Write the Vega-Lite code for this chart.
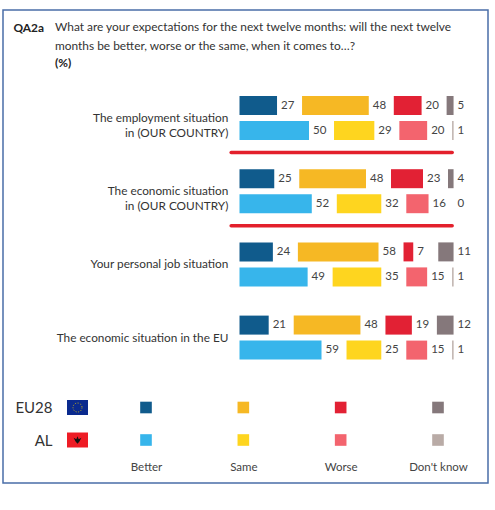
{
  "$schema": "https://vega.github.io/schema/vega-lite/v6.json",
  "autosize": "none",
  "width": 485,
  "height": 473,
  "padding": {"left": 3, "top": 10, "right": 7, "bottom": 27},
  "background": "white",
  "title": {
    "text": ["What are your expectations for the next twelve months: will the next twelve", "months be better, worse or the same, when it comes to…?"],
    "subtitle": "(%)",
    "anchor": "start",
    "frame": "group",
    "dx": 52,
    "offset": -60,
    "fontSize": 11.9,
    "fontWeight": "normal",
    "color": "#333333",
    "lineHeight": 19.5,
    "subtitleFontSize": 11.9,
    "subtitleFontWeight": "bold",
    "subtitleColor": "#222222",
    "subtitlePadding": 5
  },
  "datasets": {
    "answers": [
      {"topic": "The employment situation\nin (OUR COUNTRY)", "country": "EU28", "response": "Better", "value": 27},
      {"topic": "The employment situation\nin (OUR COUNTRY)", "country": "EU28", "response": "Same", "value": 48},
      {"topic": "The employment situation\nin (OUR COUNTRY)", "country": "EU28", "response": "Worse", "value": 20},
      {"topic": "The employment situation\nin (OUR COUNTRY)", "country": "EU28", "response": "Don't know", "value": 5},
      {"topic": "The employment situation\nin (OUR COUNTRY)", "country": "AL", "response": "Better", "value": 50},
      {"topic": "The employment situation\nin (OUR COUNTRY)", "country": "AL", "response": "Same", "value": 29},
      {"topic": "The employment situation\nin (OUR COUNTRY)", "country": "AL", "response": "Worse", "value": 20},
      {"topic": "The employment situation\nin (OUR COUNTRY)", "country": "AL", "response": "Don't know", "value": 1},
      {"topic": "The economic situation\nin (OUR COUNTRY)", "country": "EU28", "response": "Better", "value": 25},
      {"topic": "The economic situation\nin (OUR COUNTRY)", "country": "EU28", "response": "Same", "value": 48},
      {"topic": "The economic situation\nin (OUR COUNTRY)", "country": "EU28", "response": "Worse", "value": 23},
      {"topic": "The economic situation\nin (OUR COUNTRY)", "country": "EU28", "response": "Don't know", "value": 4},
      {"topic": "The economic situation\nin (OUR COUNTRY)", "country": "AL", "response": "Better", "value": 52},
      {"topic": "The economic situation\nin (OUR COUNTRY)", "country": "AL", "response": "Same", "value": 32},
      {"topic": "The economic situation\nin (OUR COUNTRY)", "country": "AL", "response": "Worse", "value": 16},
      {"topic": "The economic situation\nin (OUR COUNTRY)", "country": "AL", "response": "Don't know", "value": 0},
      {"topic": "Your personal job situation", "country": "EU28", "response": "Better", "value": 24},
      {"topic": "Your personal job situation", "country": "EU28", "response": "Same", "value": 58},
      {"topic": "Your personal job situation", "country": "EU28", "response": "Worse", "value": 7},
      {"topic": "Your personal job situation", "country": "EU28", "response": "Don't know", "value": 11},
      {"topic": "Your personal job situation", "country": "AL", "response": "Better", "value": 49},
      {"topic": "Your personal job situation", "country": "AL", "response": "Same", "value": 35},
      {"topic": "Your personal job situation", "country": "AL", "response": "Worse", "value": 15},
      {"topic": "Your personal job situation", "country": "AL", "response": "Don't know", "value": 1},
      {"topic": "The economic situation in the EU", "country": "EU28", "response": "Better", "value": 21},
      {"topic": "The economic situation in the EU", "country": "EU28", "response": "Same", "value": 48},
      {"topic": "The economic situation in the EU", "country": "EU28", "response": "Worse", "value": 19},
      {"topic": "The economic situation in the EU", "country": "EU28", "response": "Don't know", "value": 12},
      {"topic": "The economic situation in the EU", "country": "AL", "response": "Better", "value": 59},
      {"topic": "The economic situation in the EU", "country": "AL", "response": "Same", "value": 25},
      {"topic": "The economic situation in the EU", "country": "AL", "response": "Worse", "value": 15},
      {"topic": "The economic situation in the EU", "country": "AL", "response": "Don't know", "value": 1}
    ],
    "topics": [
      {"topic": "The employment situation\nin (OUR COUNTRY)"},
      {"topic": "The economic situation\nin (OUR COUNTRY)"},
      {"topic": "Your personal job situation"},
      {"topic": "The economic situation in the EU"}
    ],
    "flags": [
      {"country": "EU28"},
      {"country": "AL"}
    ]
  },
  "layer": [
    {
      "data": {"name": "answers"},
      "transform": [
        {"calculate": "indexof(['Better', 'Same', 'Worse', \"Don't know\"], datum.response)", "as": "idx"},
        {"stack": "value", "groupby": ["topic", "country"], "sort": [{"field": "idx"}], "as": ["s0", "s1"]},
        {"calculate": "datum.s0 + 18 * datum.idx", "as": "x0"},
        {"calculate": "datum.s1 + 18 * datum.idx", "as": "x1"},
        {"calculate": "datum.country + ' ' + datum.response", "as": "key"}
      ],
      "layer": [
        {
          "mark": {"type": "bar"},
          "encoding": {
            "x": {
              "field": "x0", "type": "quantitative",
              "scale": {"domain": [0, 180], "range": [236.5, 486.7], "nice": false},
              "axis": {
                "orient": "top", "labels": false, "ticks": false, "domain": false, "grid": false,
                "title": "QA2a", "titleX": 10, "titleY": 21, "titleAlign": "left",
                "titleBaseline": "alphabetic", "titleFontWeight": "bold", "titleFontSize": 11.9,
                "titleColor": "#222222", "titleAngle": 0
              }
            },
            "x2": {"field": "x1"},
            "y": {
              "field": "topic", "type": "nominal", "sort": null,
              "scale": {
                "domain": ["The employment situation\nin (OUR COUNTRY)", "The economic situation\nin (OUR COUNTRY)", "Your personal job situation", "The economic situation in the EU"],
                "range": [71.4, 364.2], "paddingInner": 0, "paddingOuter": 0
              },
              "axis": null
            },
            "yOffset": {
              "field": "country", "type": "nominal",
              "scale": {"domain": ["EU28", "AL"], "paddingInner": 0.24, "paddingOuter": 0.584}
            },
            "color": {
              "field": "key", "type": "nominal", "legend": null,
              "scale": {
                "domain": ["EU28 Better", "EU28 Same", "EU28 Worse", "EU28 Don't know", "AL Better", "AL Same", "AL Worse", "AL Don't know"],
                "range": ["#105b8c", "#f6b824", "#e22134", "#85787b", "#37b5eb", "#fed51f", "#f3646e", "#b9aba6"]
              }
            }
          }
        },
        {
          "mark": {"type": "text", "align": "left", "baseline": "middle", "dx": 4, "fontSize": 11.5, "color": "#444444"},
          "encoding": {
            "x": {"field": "x1", "type": "quantitative"},
            "y": {"field": "topic", "type": "nominal", "sort": null, "axis": null},
            "yOffset": {"field": "country", "type": "nominal"},
            "text": {"field": "value", "type": "quantitative"}
          }
        },
        {
          "data": {"name": "topics"},
          "mark": {"type": "text", "align": "right", "baseline": "middle", "lineBreak": "\n", "lineHeight": 14.5, "fontSize": 11.8, "color": "#333333"},
          "encoding": {
            "x": {"datum": -8, "type": "quantitative"},
            "y": {"field": "topic", "type": "nominal", "sort": null, "axis": null},
            "text": {"field": "topic"}
          }
        },
        {
          "data": {"values": [
            {"topic": "The employment situation\nin (OUR COUNTRY)"},
            {"topic": "The economic situation\nin (OUR COUNTRY)"}
          ]},
          "mark": {"type": "rule", "color": "#e3202c", "strokeWidth": 3.5, "strokeCap": "round", "yOffset": -2},
          "encoding": {
            "x": {"datum": -6, "type": "quantitative"},
            "x2": {"datum": 153},
            "y": {"field": "topic", "type": "nominal", "sort": null, "bandPosition": 1, "axis": null}
          }
        }
      ]
    },
    {
      "data": {"name": "answers"},
      "transform": [
        {"filter": "datum.topic == 'Your personal job situation'"},
        {"calculate": "datum.country + ' ' + datum.response", "as": "key"}
      ],
      "layer": [
        {
          "mark": {"type": "square", "size": 135, "opacity": 1},
          "encoding": {
            "x": {
              "field": "response", "type": "nominal",
              "scale": {"type": "point", "domain": ["Better", "Same", "Worse", "Don't know"], "range": [143, 435], "padding": 0},
              "axis": {
                "orient": "bottom", "offset": -22, "domain": false, "ticks": false, "tickSize": 0,
                "labelPadding": 0, "labelFontSize": 11.5, "labelColor": "#444444", "labelAngle": 0,
                "title": null, "grid": false
              }
            },
            "y": {
              "field": "country", "type": "nominal",
              "scale": {"type": "point", "domain": ["EU28", "AL"], "range": [397.5, 430], "padding": 0},
              "axis": {
                "orient": "left", "offset": -49, "domain": false, "ticks": false, "tickSize": 0,
                "labelPadding": 0, "labelFontSize": 15, "labelColor": "#333333",
                "title": null, "grid": false
              }
            },
            "color": {"field": "key", "type": "nominal", "legend": null}
          }
        },
        {
          "data": {"name": "flags"},
          "mark": {"type": "point", "shape": "M-1,-0.714L1,-0.714L1,0.714L-1,0.714Z", "size": 441, "filled": true, "opacity": 1, "xOffset": -68.5},
          "encoding": {
            "x": {"datum": "Better", "type": "nominal"},
            "y": {"field": "country", "type": "nominal"},
            "fill": {"field": "country", "type": "nominal", "legend": null,
              "scale": {"domain": ["EU28", "AL"], "range": ["#0a2a8e", "#ee1c25"]}}
          }
        },
        {
          "data": {"name": "flags"},
          "transform": [{"filter": "datum.country == 'EU28'"}],
          "mark": {"type": "point", "shape": "circle", "size": 81, "filled": false, "opacity": 1, "stroke": "#f5d000", "strokeWidth": 0.8, "strokeDash": [1, 1.6], "xOffset": -68.5},
          "encoding": {
            "x": {"datum": "Better", "type": "nominal"},
            "y": {"field": "country", "type": "nominal"}
          }
        },
        {
          "data": {"name": "flags"},
          "transform": [{"filter": "datum.country == 'AL'"}],
          "mark": {"type": "point", "shape": "M-1,-0.6L-0.3,-0.2L0,-1L0.3,-0.2L1,-0.6L0.5,0.4L0,1L-0.5,0.4Z", "size": 60, "filled": true, "opacity": 1, "color": "#111111", "xOffset": -68.5},
          "encoding": {
            "x": {"datum": "Better", "type": "nominal"},
            "y": {"field": "country", "type": "nominal"}
          }
        }
      ]
    }
  ],
  "resolve": {
    "scale": {"x": "independent", "y": "independent"},
    "axis": {"x": "independent", "y": "independent"}
  },
  "config": {
    "font": "Lato",
    "view": {"stroke": "#4a6ea8", "strokeWidth": 1.5},
    "axis": {"grid": false}
  }
}
